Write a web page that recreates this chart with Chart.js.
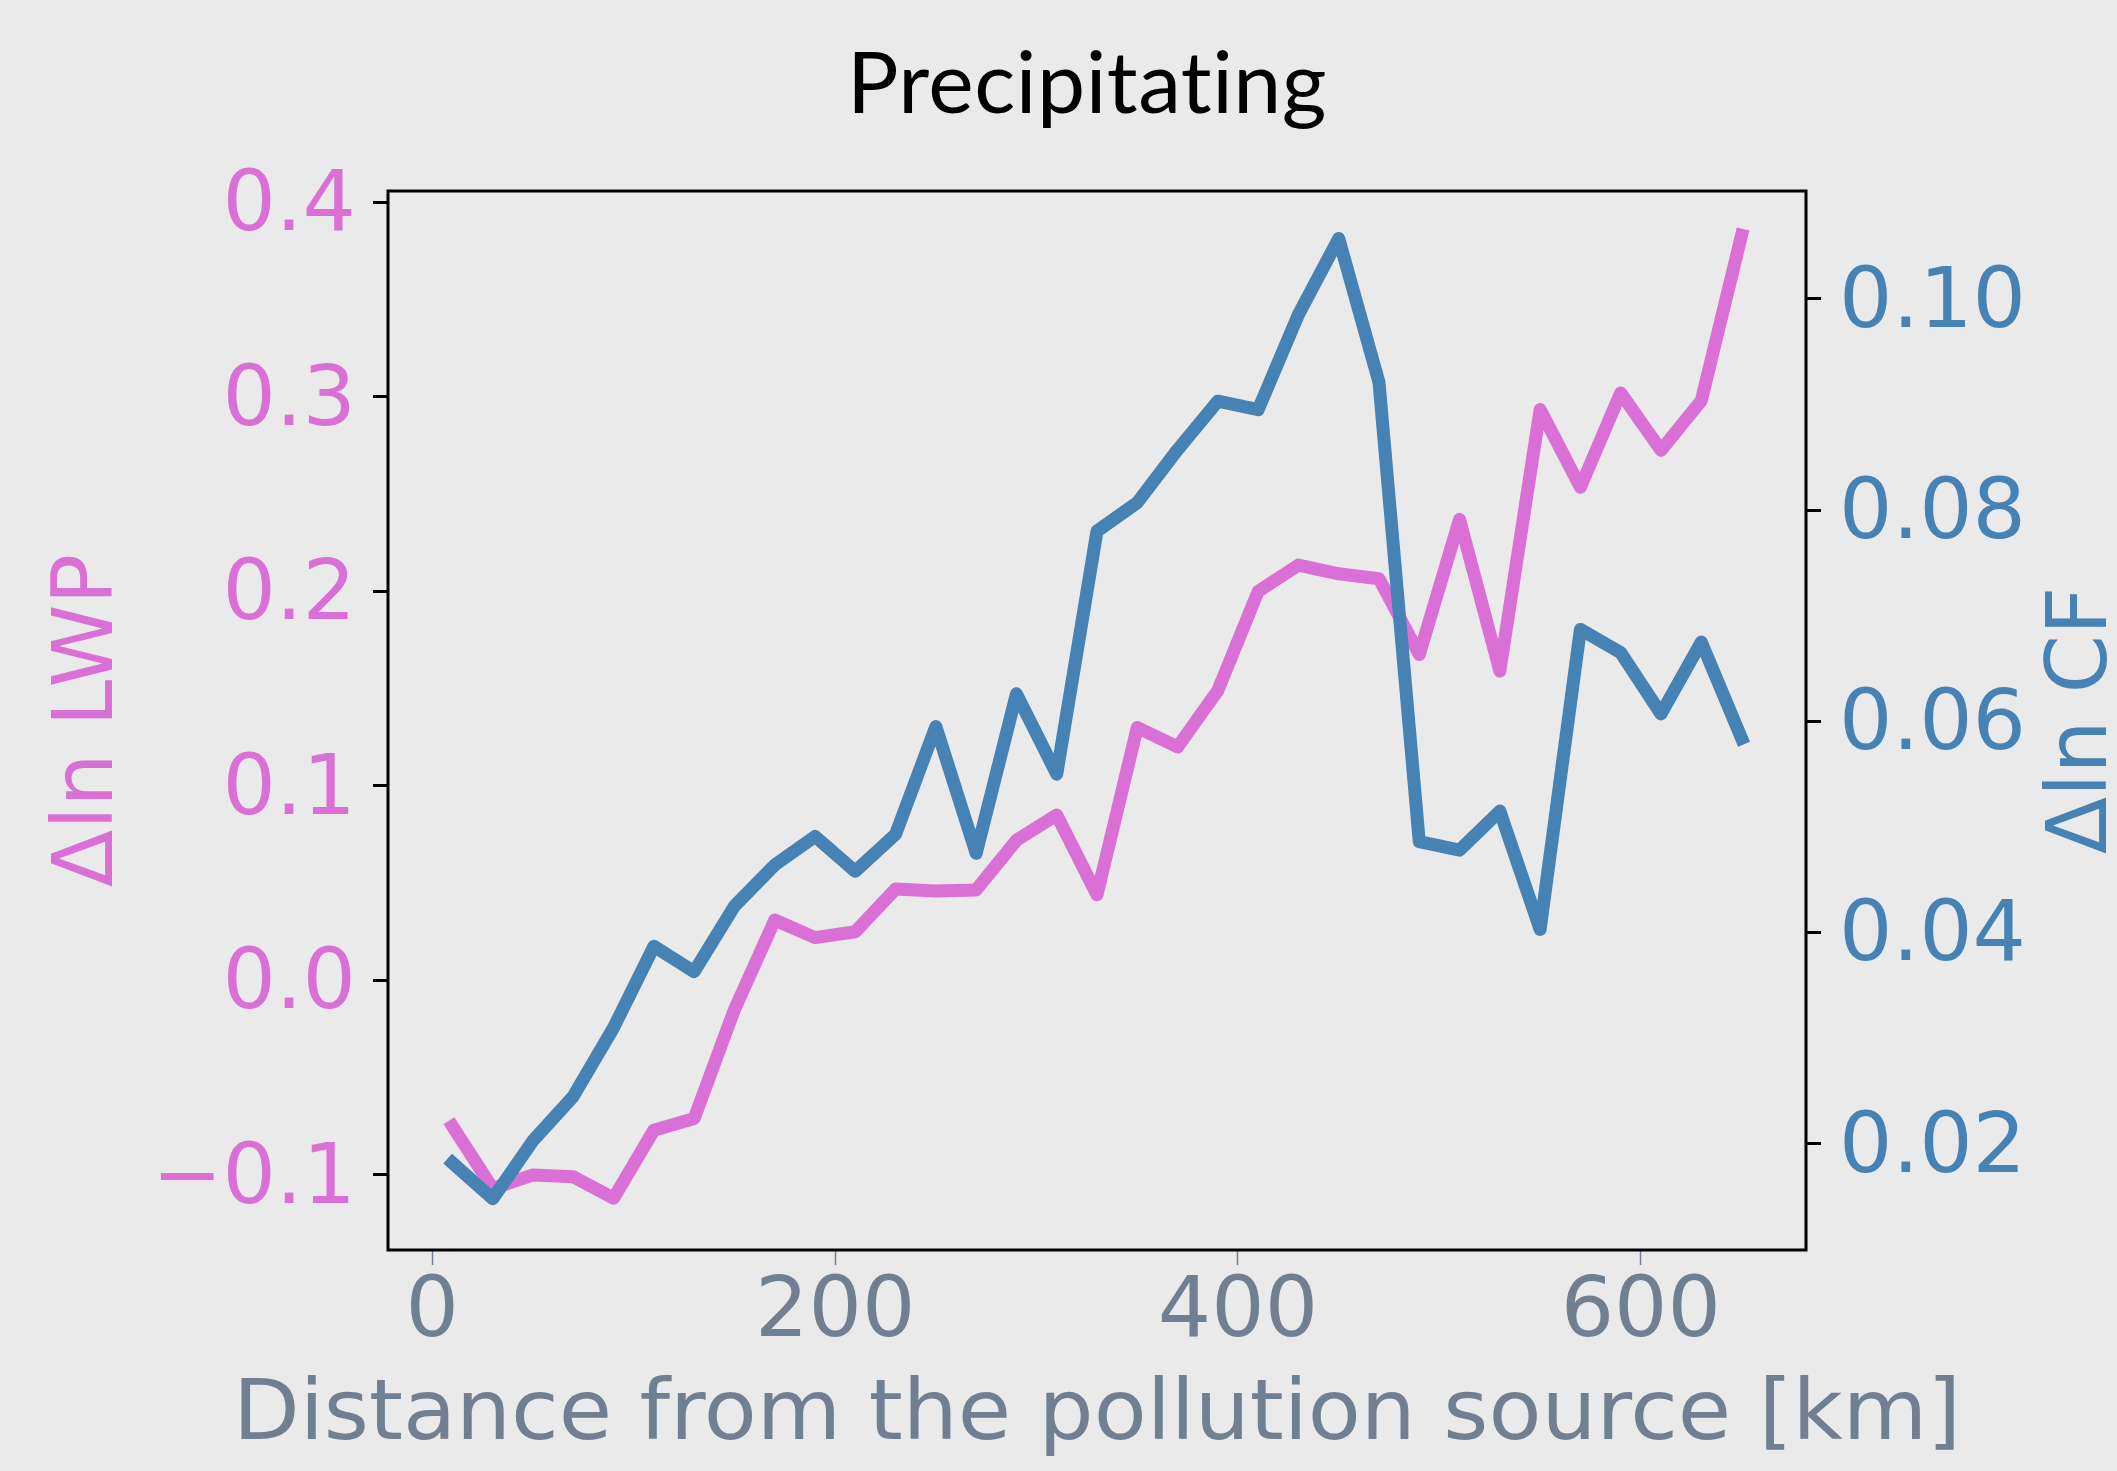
<!DOCTYPE html>
<html>
<head>
<meta charset="utf-8">
<title>Precipitating</title>
<script src="https://cdn.jsdelivr.net/npm/chart.js@4.4.1/dist/chart.umd.min.js"></script>
<style>
  html, body { margin: 0; padding: 0; background: #eaeaea; }
  #wrap { width: 2117px; height: 1471px; }
</style>
</head>
<body>
<div id="wrap"><canvas id="chart" width="2117" height="1471"></canvas></div>
<script>
const COLORS = {
  bg: '#eaeaea',
  lwp: '#da70d6',
  cf: '#4682b4',
  slate: '#708090',
  frame: '#000000',
};

// distance bins [km]
const distanceKm = [10, 30, 50, 70, 90, 110, 130, 150, 170, 190, 210, 230, 250, 270, 290, 310, 330,
  350, 370, 390, 410, 430, 450, 470, 490, 510, 530, 550, 570, 590, 610, 630, 650];

const dLnLwp = [-0.075, -0.107, -0.100, -0.101, -0.112, -0.077, -0.071, -0.015, 0.031, 0.022, 0.025,
  0.047, 0.046, 0.0465, 0.072, 0.085, 0.044, 0.130, 0.120, 0.149, 0.200, 0.2135, 0.209, 0.2065,
  0.1675, 0.237, 0.159, 0.2935, 0.2535, 0.302, 0.2725, 0.298, 0.383];

const dLnCf = [0.0182, 0.0148, 0.0203, 0.0245, 0.0310, 0.0387, 0.0363, 0.0425, 0.0464, 0.0491, 0.0458,
  0.0493, 0.0595, 0.0475, 0.0626, 0.0550, 0.0780, 0.0807, 0.0857, 0.0903, 0.0895, 0.0985, 0.1057,
  0.0921, 0.0486, 0.0478, 0.0515, 0.0403, 0.0687, 0.0665, 0.0607, 0.0675, 0.0584];

const xTicks = [0, 200, 400, 600];
const lwpTicks = [-0.1, 0.0, 0.1, 0.2, 0.3, 0.4];
const cfTicks = [0.02, 0.04, 0.06, 0.08, 0.10];

const TICK_FONT = { family: 'DejaVu Sans', size: 84, lineHeight: 1.2 };

function fixedTicks(values) {
  return (scale) => { scale.ticks = values.map((value) => ({ value })); };
}

function fmt(v, digits) {
  return Number(v).toFixed(digits).replace('-', '\u2212');
}

function toPoints(xs, ys) {
  return xs.map((x, i) => ({ x, y: ys[i] }));
}

const backgroundPlugin = {
  id: 'background',
  beforeDraw(chart) {
    const { ctx, width, height } = chart;
    ctx.save();
    ctx.fillStyle = COLORS.bg;
    ctx.fillRect(0, 0, width, height);
    ctx.restore();
  },
};

const framePlugin = {
  id: 'frame',
  afterDraw(chart) {
    const { ctx, chartArea: a } = chart;
    ctx.save();
    ctx.strokeStyle = COLORS.frame;
    ctx.lineWidth = 3;
    ctx.strokeRect(a.left, a.top, a.right - a.left, a.bottom - a.top);
    ctx.restore();
  },
};

// title, x label (wide lettering in the original) and the right axis label,
// which matplotlib writes bottom-to-top
const textPlugin = {
  id: 'texts',
  afterDraw(chart) {
    const { ctx, chartArea: a } = chart;
    ctx.save();
    ctx.fillStyle = '#000000';
    ctx.font = '86px Lato';
    ctx.letterSpacing = '0.5px';
    ctx.textAlign = 'center';
    ctx.textBaseline = 'alphabetic';
    ctx.fillText('Precipitating', 1087, 113, 486);
    ctx.restore();

    ctx.save();
    const xLabel = 'Distance from the pollution source [km]';
    ctx.font = '84px "DejaVu Sans"';
    ctx.fillStyle = COLORS.slate;
    ctx.textAlign = 'center';
    ctx.textBaseline = 'alphabetic';
    const stretch = 1728 / ctx.measureText(xLabel).width;
    ctx.translate((a.left + a.right) / 2, 1439);
    ctx.scale(stretch, 1);
    ctx.fillText(xLabel, 0, 0);
    ctx.restore();

    ctx.save();
    ctx.translate(2106, (a.top + a.bottom) / 2);
    ctx.rotate(-Math.PI / 2);
    ctx.fillStyle = COLORS.cf;
    ctx.font = '84px "DejaVu Sans"';
    ctx.textAlign = 'center';
    ctx.fillText('\u0394ln CF', 0, 0);
    ctx.restore();
  },
};

new Chart(document.getElementById('chart'), {
  type: 'line',
  data: {
    datasets: [
      {
        label: '\u0394ln CF',
        data: toPoints(distanceKm, dLnCf),
        yAxisID: 'yCf',
        borderColor: COLORS.cf,
        borderWidth: 13,
        order: 0,
      },
      {
        label: '\u0394ln LWP',
        data: toPoints(distanceKm, dLnLwp),
        yAxisID: 'yLwp',
        borderColor: COLORS.lwp,
        borderWidth: 13,
        order: 1,
      },
    ],
  },
  options: {
    responsive: false,
    animation: false,
    layout: { padding: { top: 191, left: 0, right: 0, bottom: 0 } },
    elements: {
      point: { radius: 0 },
      line: { tension: 0, borderJoinStyle: 'round', borderCapStyle: 'square', fill: false },
    },
    plugins: {
      legend: { display: false },
      tooltip: { enabled: false },
      title: { display: false },
    },
    scales: {
      x: {
        type: 'linear',
        position: 'bottom',
        min: -22,
        max: 682,
        afterBuildTicks: fixedTicks(xTicks),
        afterFit: (s) => { s.height = 221; },
        border: { display: false },
        grid: {
          drawOnChartArea: false,
          drawTicks: true,
          tickLength: 15,
          tickColor: COLORS.slate,
          tickWidth: 1.5,
        },
        ticks: {
          color: COLORS.slate,
          font: TICK_FONT,
          padding: -1,
          autoSkip: false,
          maxRotation: 0,
          callback: (v) => fmt(v, 0),
        },
      },
      yLwp: {
        type: 'linear',
        position: 'left',
        min: -0.1386,
        max: 0.4058,
        afterBuildTicks: fixedTicks(lwpTicks),
        afterFit: (s) => { s.width = 388; },
        border: { display: false },
        grid: {
          drawOnChartArea: false,
          drawTicks: true,
          tickLength: 15,
          tickColor: COLORS.frame,
          tickWidth: 3,
        },
        ticks: {
          color: COLORS.lwp,
          font: TICK_FONT,
          padding: 17,
          labelOffset: 6,
          autoSkip: false,
          callback: (v) => fmt(v, 1),
        },
        title: {
          display: true,
          text: '\u0394ln LWP',
          color: COLORS.lwp,
          font: TICK_FONT,
          padding: { top: 40, bottom: 0 },
        },
      },
      yCf: {
        type: 'linear',
        position: 'right',
        min: 0.00995,
        max: 0.1102,
        afterBuildTicks: fixedTicks(cfTicks),
        afterFit: (s) => { s.width = 311; },
        border: { display: false },
        grid: {
          drawOnChartArea: false,
          drawTicks: true,
          tickLength: 15,
          tickColor: COLORS.frame,
          tickWidth: 3,
        },
        ticks: {
          color: COLORS.cf,
          font: TICK_FONT,
          padding: 18,
          labelOffset: 6,
          autoSkip: false,
          callback: (v) => fmt(v, 2),
        },
      },
    },
  },
  plugins: [backgroundPlugin, framePlugin, textPlugin],
});
</script>
</body>
</html>
